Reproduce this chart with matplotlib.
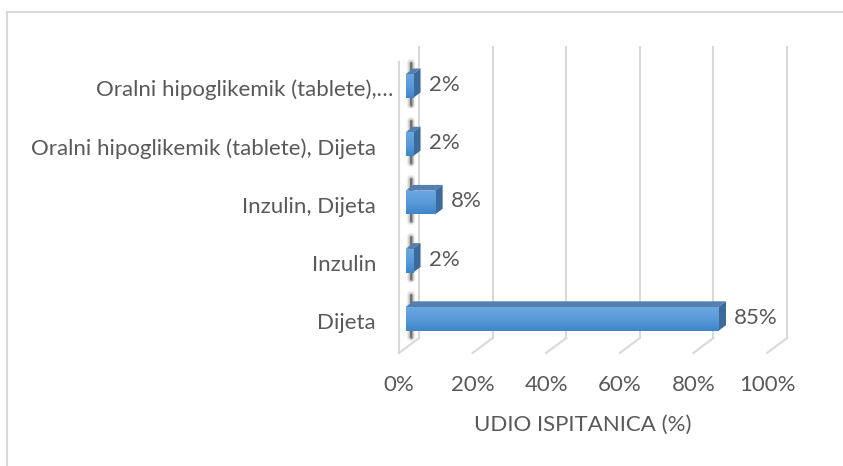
import matplotlib
matplotlib.use("Agg")
import matplotlib.pyplot as plt
import matplotlib.patches as mpatches
import matplotlib.transforms as mtransforms
import numpy

categories = ["Dijeta", "Inzulin", "Inzulin, Dijeta",
              "Oralni hipoglikemik (tablete), Dijeta",
              "Oralni hipoglikemik (tablete),\u2026"]
values = [85, 2, 8, 2, 2]
value_labels = ["85%", "2%", "8%", "2%", "2%"]
x_ticks = [0, 20, 40, 60, 80, 100]
x_tick_labels = ["0%", "20%", "40%", "60%", "80%", "100%"]
x_title = "UDIO ISPITANICA (%)"

if __name__ == '__main__':
    plt.rcParams['font.family'] = ['Lato', 'DejaVu Sans']
    text_color = "#595959"
    grid_color = "#d9d9d9"
    font_size = 16

    fig = plt.figure(figsize=(8.43, 4.66), dpi=100)
    # front plane of the 3d box: x 0..100 -> px 399..767, y -> px 353..62
    ax = fig.add_axes([399 / 843, (466 - 353) / 466, 368 / 843, 291 / 466])
    ax.set_xlim(0, 100)
    ax.set_ylim(-0.5, 4.5)
    ax.set_frame_on(False)

    # depth of the box in data units (20 px right, 15 px up)
    DX = 20 / 3.68
    DY = 15 / 58.2
    n = len(categories)

    # back wall gridlines and floor diagonals
    for t in x_ticks:
        ax.plot([t + DX, t + DX], [-0.5 + DY, n - 0.5 + DY], color=grid_color,
                lw=1.5, clip_on=False, zorder=1)
        ax.plot([t, t + DX], [-0.5, -0.5 + DY], color=grid_color,
                lw=1.5, clip_on=False, zorder=1)
    # left wall front edge
    ax.plot([0, 0], [-0.5, n - 0.5], color=grid_color, lw=1.5, clip_on=False, zorder=1)

    d1 = 0.33
    bd = 0.38
    bar_h = 0.41
    y_pos = numpy.arange(n)

    # dark marks on the left wall behind each bar
    for y in y_pos:
        xs = [0.6 * DX, 0.6 * DX]
        ys = [y - 0.36 + 0.5 * DY, y + 0.36 + 0.5 * DY]
        for lw, a in [(6, 0.08), (4, 0.16), (2.5, 0.3), (1.2, 0.5)]:
            ax.plot(xs, ys, color="#303030", lw=lw, alpha=a,
                    solid_capstyle="round", clip_on=False, zorder=2)

    gradient = numpy.linspace(0, 1, 64).reshape(-1, 1)
    cmap = matplotlib.colors.LinearSegmentedColormap.from_list(
        "face", ["#3f85cb", "#5a9ad9", "#6aa8e2"])

    bars = ax.barh(y_pos + d1 * DY, values, height=bar_h, left=d1 * DX,
                   color="#5b9bd5", edgecolor="none", zorder=3)
    for bar, v, lab in zip(bars, values, value_labels):
        x0 = bar.get_x()
        yb = bar.get_y()
        yt = yb + bar.get_height()
        w = bar.get_width()
        im = ax.imshow(gradient, extent=[x0, x0 + w, yb, yt], origin="lower",
                       cmap=cmap, aspect="auto", zorder=3.5)
        im.set_clip_path(bar)
        top = mpatches.Polygon([(x0, yt), (x0 + w, yt), (x0 + w + bd * DX, yt + bd * DY),
                                (x0 + bd * DX, yt + bd * DY)],
                               closed=True, facecolor="#5480b0", edgecolor="none",
                               zorder=3, clip_on=False)
        side = mpatches.Polygon([(x0 + w, yb), (x0 + w, yt),
                                 (x0 + w + bd * DX, yt + bd * DY),
                                 (x0 + w + bd * DX, yb + bd * DY)],
                                closed=True, facecolor="#3b6a9b", edgecolor="none",
                                zorder=3, clip_on=False)
        ax.add_patch(top)
        ax.add_patch(side)
        ax.text(x0 + w + bd * DX + 2.2, (yb + yt) / 2 + 0.02, lab, ha="left", va="center",
                fontsize=font_size, color=text_color, clip_on=False, zorder=4)

    ax.set_xlim(0, 100)
    ax.set_ylim(-0.5, 4.5)

    ax.set_xticks(x_ticks)
    ax.set_xticklabels(x_tick_labels, fontsize=font_size, color=text_color)
    ax.tick_params(axis="x", length=0, pad=16)
    ax.set_yticks(y_pos + 0.05)
    ax.set_yticklabels(categories, fontsize=font_size, color=text_color)
    ax.tick_params(axis="y", length=0, pad=16.5)
    # the truncated label sits closer to the wall
    last = ax.get_yticklabels()[-1]
    last.set_transform(last.get_transform() +
                       mtransforms.ScaledTranslation(0.17, 0, fig.dpi_scale_trans))

    ax.set_xlabel(x_title, fontsize=font_size, color=text_color, va="center")
    ax.xaxis.set_label_coords(0.5, (353 - 425) / 291)

    # chart area border
    fig.add_artist(mpatches.Rectangle((7 / 843, -0.1), 1.2, 1.1 - 12 / 466,
                                      transform=fig.transFigure, fill=False,
                                      edgecolor=grid_color, lw=1.5))

    plt.savefig("out.png", dpi=100)
